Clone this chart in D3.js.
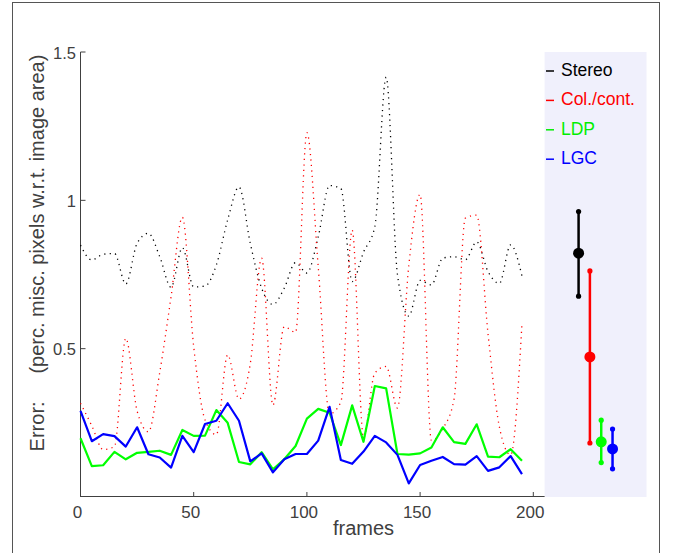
<!DOCTYPE html>
<html>
<head>
<meta charset="utf-8">
<script src="https://cdn.jsdelivr.net/npm/d3@7"></script>
<style>
  body { margin: 0; background: #fff; }
  svg { display: block; }
  text { font-family: "Liberation Sans", Arial, sans-serif; }
</style>
</head>
<body>
<div id="chart"></div>
<script>
// frame numbers (every 5th frame)
const frames = [0, 5, 10, 15, 20, 25, 30, 35, 40, 45, 50, 55, 60, 65, 70, 75, 80, 85, 90, 95,
  100, 105, 110, 115, 120, 125, 130, 135, 140, 145, 150, 155, 160, 165, 170, 175, 180, 185, 190, 195];

const stereo = [0.849, 0.799, 0.818, 0.821, 0.718, 0.855, 0.889, 0.81, 0.707, 0.84, 0.708, 0.711, 0.782, 0.934, 1.045, 0.855, 0.704, 0.649, 0.704, 0.79,
  0.755, 0.877, 1.05, 1.04, 0.726, 0.825, 0.911, 1.415, 0.75, 0.61, 0.73, 0.715, 0.805, 0.81, 0.8, 0.86, 0.76, 0.72, 0.85, 0.745];

const colcont = [0.316, 0.24, 0.16, 0.17, 0.535, 0.29, 0.22, 0.42, 0.675, 0.943, 0.507, 0.26, 0.21, 0.479, 0.33, 0.45, 0.805, 0.31, 0.574, 0.555,
  1.228, 0.776, 0.28, 0.32, 0.9, 0.2, 0.418, 0.44, 0.3, 0.78, 1.02, 0.19, 0.23, 0.33, 0.94, 0.95, 0.55, 0.237, 0.142, 0.585];

const ldp = [0.198, 0.104, 0.107, 0.152, 0.127, 0.149, 0.152, 0.156, 0.142, 0.226, 0.206, 0.207, 0.293, 0.25, 0.118, 0.11, 0.151, 0.093, 0.127, 0.172,
  0.264, 0.297, 0.284, 0.175, 0.309, 0.186, 0.374, 0.366, 0.145, 0.143, 0.147, 0.167, 0.235, 0.185, 0.179, 0.245, 0.136, 0.134, 0.161, 0.122];

const lgc = [0.29, 0.188, 0.212, 0.205, 0.17, 0.235, 0.144, 0.133, 0.099, 0.206, 0.151, 0.246, 0.257, 0.316, 0.257, 0.12, 0.147, 0.083, 0.127, 0.145,
  0.145, 0.19, 0.304, 0.125, 0.112, 0.153, 0.206, 0.184, 0.142, 0.046, 0.108, 0.122, 0.135, 0.111, 0.109, 0.138, 0.088, 0.1, 0.138, 0.077];

// summary: mean, upper, lower (drawn at x = 220..235)
const methods = ["Stereo", "Col./cont.", "LDP", "LGC"];
const colors = ["#000000", "#ff0000", "#00ee00", "#0000ff"];
const summaryX = [220, 225, 230, 235];
const summaryMean = [0.822, 0.472, 0.186, 0.162];
const summaryHigh = [0.962, 0.762, 0.259, 0.229];
const summaryLow = [0.677, 0.182, 0.116, 0.095];

const yTicks = [0.5, 1, 1.5];
const xTicks = [0, 50, 100, 150, 200];

const W = 673, H = 553;
const axisGray = "#404040";

let svg = d3.select("#chart").append("svg").attr("width", W).attr("height", H);

// outer frame
svg.append("rect")
  .attr("x", 12.5).attr("y", 2.5)
  .attr("width", 647).attr("height", 600)
  .attr("fill", "none").attr("stroke", "#555").attr("stroke-width", 1);

let x = d3.scaleLinear().domain([0, 250]).range([80.5, 646.5]);
let y = d3.scaleLinear().domain([0, 1.5]).range([497, 52]);

// lavender side panel
svg.append("rect")
  .attr("x", x(205)).attr("y", y(1.5))
  .attr("width", x(250) - x(205)).attr("height", y(0) - y(1.5))
  .attr("fill", "#f0f0fc");

// axes
let ax = svg.append("g").attr("stroke", axisGray).attr("stroke-width", 1);
ax.append("line").attr("x1", x(0)).attr("x2", x(0)).attr("y1", y(1.5)).attr("y2", y(0));
ax.append("line").attr("x1", x(0)).attr("x2", x(205)).attr("y1", y(0) - 0.5).attr("y2", y(0) - 0.5);

ax.selectAll(".yt").data(yTicks).join("line")
  .attr("x1", x(0)).attr("x2", x(0) + 5)
  .attr("y1", d => y(d)).attr("y2", d => y(d));
ax.selectAll(".xt").data(xTicks).join("line")
  .attr("x1", d => x(d)).attr("x2", d => x(d))
  .attr("y1", y(0)).attr("y2", y(0) - 5);

svg.selectAll(".ylab").data(yTicks).join("text")
  .attr("x", x(0) - 4.5).attr("y", d => y(d) + 1)
  .attr("dy", "0.35em")
  .attr("text-anchor", "end")
  .attr("font-size", "16.5px")
  .attr("fill", axisGray)
  .text(d => d);

svg.selectAll(".xlab").data(xTicks).join("text")
  .attr("x", d => x(d) - 3).attr("y", 517.5)
  .attr("text-anchor", "middle")
  .attr("font-size", "17px")
  .attr("fill", axisGray)
  .text(d => d);

svg.append("text")
  .attr("x", x(125)).attr("y", 535)
  .attr("text-anchor", "middle")
  .attr("font-size", "20px")
  .attr("fill", axisGray)
  .text("frames");

svg.append("text")
  .attr("transform", "translate(44, 253) rotate(-90)")
  .attr("text-anchor", "middle")
  .attr("font-size", "20px")
  .attr("fill", axisGray)
  .style("white-space", "pre")
  .text("Error:     (perc. misc. pixels w.r.t. image area)");

// series
const series = [stereo, colcont, ldp, lgc];
const dotted = [true, true, false, false];

series.forEach((vals, i) => {
  let pts = frames.map((f, j) => [f, vals[j]]);
  let line = d3.line()
    .x(d => x(d[0])).y(d => y(d[1]))
    .curve(dotted[i] ? d3.curveMonotoneX : d3.curveLinear);
  svg.append("path")
    .attr("d", line(pts))
    .attr("fill", "none")
    .attr("stroke", i == 2 ? "#00ff00" : colors[i])
    .attr("stroke-width", dotted[i] ? 1.3 : 2.2)
    .attr("stroke-dasharray", dotted[i] ? "1.2,4.3" : null)
    .attr("stroke-linejoin", "round");
});

// summary error bars
let eb = svg.append("g");
methods.forEach((m, i) => {
  let c = i == 2 ? "#00ff00" : colors[i];
  eb.append("line")
    .attr("x1", x(summaryX[i])).attr("x2", x(summaryX[i]))
    .attr("y1", y(summaryHigh[i])).attr("y2", y(summaryLow[i]))
    .attr("stroke", c).attr("stroke-width", 2.5);
  [summaryHigh[i], summaryLow[i]].forEach(v => {
    eb.append("circle").attr("cx", x(summaryX[i])).attr("cy", y(v)).attr("r", 2.6).attr("fill", c);
  });
  eb.append("circle").attr("cx", x(summaryX[i])).attr("cy", y(summaryMean[i])).attr("r", 5.5).attr("fill", c);
});

// legend
let lg = svg.append("g");
methods.forEach((m, i) => {
  let by = 76 + i * 29.4;
  lg.append("line")
    .attr("x1", 546).attr("x2", 554)
    .attr("y1", by - 5).attr("y2", by - 5)
    .attr("stroke", colors[i]).attr("stroke-width", 1.5);
  lg.append("text")
    .attr("x", 561).attr("y", by)
    .attr("font-size", "17.5px")
    .attr("fill", colors[i])
    .text(m);
});
</script>
</body>
</html>
